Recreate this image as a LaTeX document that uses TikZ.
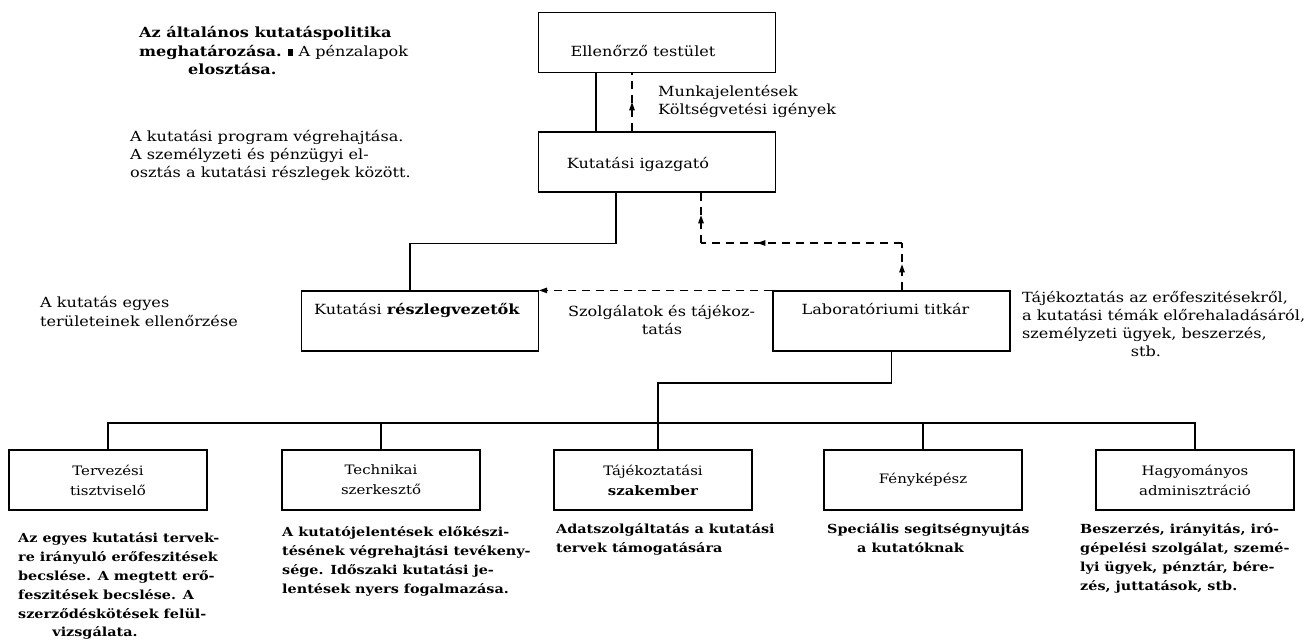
\documentclass[tikz,border=0pt]{standalone}
\usepackage{fontspec}
\setmainfont{DejaVu Serif}[FakeStretch=1.15]
\usetikzlibrary{arrows.meta,decorations.markings,calc}
\tikzset{
  ftip/.tip={Triangle[length=8pt,width=5.5pt]},
  box/.style={draw, line width=1.2pt, minimum width=237pt, minimum height=60pt, inner sep=0pt},
  sbox/.style={box, minimum width=198pt, align=center, font=\fontsize{13}{20}\selectfont},
  txt/.style={font=\fontsize{14}{18}\selectfont, inner sep=0pt},
  ln/.style={txt, anchor=base west},
  desc/.style={font=\bfseries\fontsize{12.5}{19}\selectfont, inner sep=0pt, anchor=base west},
  conn/.style={line width=1.2pt},
  dconn/.style={line width=1.1pt, dash pattern=on 8pt off 6pt},
  midarrow/.style={postaction={decorate},decoration={markings,mark=at position #1 with {\arrow{ftip}}}},
  midarrow/.default=0.5
}
\begin{document}
\begin{tikzpicture}[x=1pt,y=-1pt]
\useasboundingbox (0,0) rectangle (1311,643);
% main boxes
\node[box] (E) at (657,42.5) {};
\node[box] (I) at (657,162) {};
\node[box] (R) at (420,321) {};
\node[box] (L) at (891.5,321) {};
\node[txt] (Et) at ($(E.center)+(-14,8)$) {Ellenőrző testület};
\node[txt] (It) at ($(I.center)+(-19,2)$) {Kutatási igazgató};
\node[txt] (Rt) at ($(R.center)+(-3,-11)$) {Kutatási \textbf{részlegvezetők}};
\node[txt] (Lt) at ($(L.center)+(-6,-12)$) {Laboratóriumi titkár};
% lower boxes
\node[sbox] (B1) at (108,480) {Tervezési\\tisztviselő};
\node[sbox] (B2) at (381,480) {Technikai\\szerkesztő};
\node[sbox] (B3) at (653,480) {Tájékoztatási\\\textbf{szakember}};
\node[sbox] (B4) at (923,480) {Fényképész};
\node[sbox] (B5) at (1195,480) {Hagyományos\\adminisztráció};
% connectors
\draw[conn] ([xshift=-61pt]E.south) -- ([xshift=-61pt]I.north);
\draw[dconn, midarrow=0.5] ([xshift=-25pt]I.north) -- ([xshift=-25pt]E.south);
\draw[conn] ([xshift=-41pt]I.south) -- ++(0,51) -| ([xshift=-10pt]R.north);
\coordinate (d1) at (902,243);
\coordinate (d2) at (701,243);
\draw[dconn, midarrow=0.55] (L.north -| d1) -- (d1);
\draw[dconn, midarrow=0.72] (d1) -- (d2);
\draw[dconn, midarrow=0.55] (d2) -- (d2 |- I.south);
\draw[dconn, -ftip] (L.north west) -- (R.north east);
\coordinate (m1) at (658,383);
\draw[conn] (L.south) |- (m1) -- (m1 |- B3.north);
\coordinate (bus) at (0,423);
\draw[conn] (B1.north) -- (B1.north |- bus) -- (B5.north |- bus) -- (B5.north);
\draw[conn] (B2.north) -- (B2.north |- bus);
\draw[conn] (B4.north) -- (B4.north |- bus);
% connector labels
\node[ln] (mj1) at (658,96) {Munkajelentések};
\node[ln] (mj2) at (658,114) {Költségvetési igények};
\node[ln] (sz1) at (568,316) {Szolgálatok és tájékoz-};
\node[txt, anchor=base] (sz2) at (662,334) {tatás};
% free texts
\node[ln] (a1) at (139,37) {\textbf{Az általános kutatáspolitika}};
\node[ln] (a2) at (139,56) {\textbf{meghatározása.} \rule{5pt}{7pt} A pénzalapok};
\node[ln] (a3) at (188,74) {\textbf{elosztása.}};
\node[ln] (b1) at (130,141) {A kutatási program végrehajtása.};
\node[ln] (b2) at (130,159) {A személyzeti és pénzügyi el-};
\node[ln] (b3) at (130,177) {osztás a kutatási részlegek között.};
\node[ln] (c1) at (40,307) {A kutatás egyes};
\node[ln] (c2) at (40,326) {területeinek ellenőrzése};
\node[ln] (r1) at (1022,302) {Tájékoztatás az erőfeszitésekről,};
\node[ln] (r2) at (1022,320) {a kutatási témák előrehaladásáról,};
\node[ln] (r3) at (1022,338) {személyzeti ügyek, beszerzés,};
\node[txt, anchor=base] (r4) at (1146,356) {stb.};
% descriptions
\foreach \t [count=\i] in {{Az egyes kutatási tervek-},{re irányuló erőfeszitések},{becslése. A megtett erő-},{feszitések becslése. A},{szerződéskötések felül-}}
  \node[desc] (d1-\i) at (18,{542+19*(\i-1)}) {\t};
\node[desc, anchor=base] (d1-6) at (95,636) {vizsgálata.};
\foreach \t [count=\i] in {{A kutatójelentések előkészi-},{tésének végrehajtási tevékeny-},{sége. Időszaki kutatási je-},{lentések nyers fogalmazása.}}
  \node[desc] (d2-\i) at (282,{536+19*(\i-1)}) {\t};
\foreach \t [count=\i] in {{Adatszolgáltatás a kutatási},{tervek támogatására}}
  \node[desc] (d3-\i) at (556,{533+19*(\i-1)}) {\t};
\node[desc] (d4-1) at (827,533) {Speciális segitségnyujtás};
\node[desc] (d4-2) at (857,552) {a kutatóknak};
\foreach \t [count=\i] in {{Beszerzés, irányitás, iró-},{gépelési szolgálat, szemé-},{lyi ügyek, pénztár, bére-},{zés, juttatások,  stb.}}
  \node[desc] (d5-\i) at (1080,{533+19*(\i-1)}) {\t};
\end{tikzpicture}
\end{document}
